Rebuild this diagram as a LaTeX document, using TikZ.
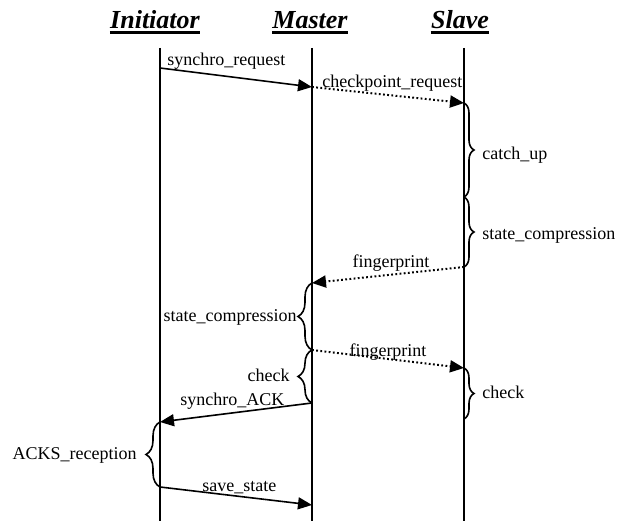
\documentclass[tikz,border=0pt]{standalone}
\usepackage{fontspec}
\setmainfont{Liberation Serif}
\usetikzlibrary{arrows.meta,decorations.pathreplacing}

\begin{document}
\begin{tikzpicture}[
  x=0.5pt,y=-0.5pt,
  head/.style={font=\fontsize{13}{15}\selectfont\bfseries\itshape,inner sep=0pt,anchor=base},
  lbl/.style={font=\fontsize{9}{11}\selectfont,inner sep=0pt},
  life/.style={line width=1pt},
  msg/.style={-{Triangle[length=7pt,width=6pt]},line width=0.8pt},
  dmsg/.style={msg,line width=1pt,dash pattern=on 0.9pt off 1.2pt},
  curly/.style={decorate,decoration={brace,amplitude=#1},line width=0.8pt},
  curly/.default=6pt
]
  \useasboundingbox (0,0) rectangle (618,523);
  % headers
  \node[head] (hini) at (155,29) {Initiator};
  \node[head] (hmas) at (310,29) {Master};
  \node[head] (hsla) at (460,29) {Slave};
  \foreach \h in {hini,hmas,hsla}
    \draw[line width=1.5pt] ([yshift=-2pt]\h.base west) -- ([yshift=-2pt]\h.base east);
  % lifelines
  \coordinate (i0) at (160,48);  \coordinate (iE) at (160,521);
  \coordinate (m0) at (312,48);  \coordinate (mE) at (312,521);
  \coordinate (s0) at (464,48);  \coordinate (sE) at (464,521);
  \draw[life] (i0) -- (iE);
  \draw[life] (m0) -- (mE);
  \draw[life] (s0) -- (sE);
  % events
  \coordinate (i1) at (160,68);
  \coordinate (m1) at (312,87);
  \coordinate (s1) at (464,103);
  \coordinate (s2) at (464,197);
  \coordinate (s3) at (464,267);
  \coordinate (m2) at (312,283);
  \coordinate (m3) at (312,350);
  \coordinate (s4) at (464,368);
  \coordinate (s5) at (464,419);
  \coordinate (m4) at (312,403);
  \coordinate (i2) at (160,422);
  \coordinate (i3) at (160,487);
  \coordinate (m5) at (312,505);
  % messages
  \draw[msg] (i1) -- (m1);
  \draw[dmsg] (m1) -- (s1);
  \draw[dmsg] (s3) -- (m2);
  \draw[dmsg] (m3) -- (s4);
  \draw[msg] (m4) -- (i2);
  \draw[msg] (i3) -- (m5);
  % braces
  \draw[curly=5pt] (s1) -- (s2);
  \draw[curly=5pt] (s2) -- (s3);
  \draw[curly=7pt] (m3) -- (m2);
  \draw[curly=7pt] (m4) -- (m3);
  \draw[curly=5pt] (s4) -- (s5);
  \draw[curly=7pt] (i3) -- (i2);
  % labels
  \node[lbl,anchor=base west] (tsreq) at (167,66) {synchro\_request};
  \node[lbl,anchor=base west] (tcreq) at (322,88) {checkpoint\_request};
  \node[lbl,anchor=base west] (tcatch) at (482,160) {catch\_up};
  \node[lbl,anchor=base west] (tscs) at (482,240) {state\_compression};
  \node[lbl,anchor=base] (tfp1) at (391,268) {fingerprint};
  \node[lbl,anchor=base east] (tmsc) at (297,322) {state\_compression};
  \node[lbl,anchor=base] (tfp2) at (388,357) {fingerprint};
  \node[lbl,anchor=base east] (tmchk) at (290,382) {check};
  \node[lbl,anchor=base west] (tschk) at (482,399) {check};
  \node[lbl,anchor=base west] (tack) at (180,406) {synchro\_ACK};
  \node[lbl,anchor=base east] (trec) at (137,460) {ACKS\_reception};
  \node[lbl,anchor=base west] (tsave) at (202,492) {save\_state};
\end{tikzpicture}
\end{document}
